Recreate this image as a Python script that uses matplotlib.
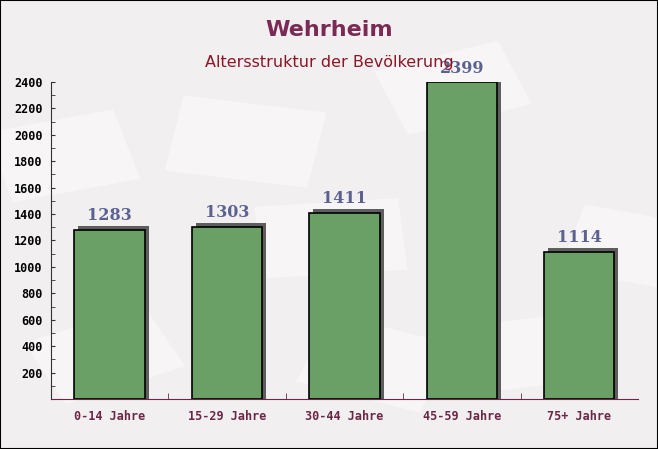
# Altersstruktur Wehrheim - bar chart with drop shadow
import matplotlib
matplotlib.use("Agg")
import matplotlib.pyplot as plt
import matplotlib.transforms as mtransforms
from matplotlib.patches import Rectangle
from matplotlib.ticker import MultipleLocator, FixedLocator

categories = ["0-14 Jahre", "15-29 Jahre", "30-44 Jahre", "45-59 Jahre", "75+ Jahre"]
values = [1283, 1303, 1411, 2399, 1114]
yticks = [200, 400, 600, 800, 1000, 1200, 1400, 1600, 1800, 2000, 2200, 2400]

BG = "#f2eff0"
fig = plt.figure(figsize=(6.58, 4.49), dpi=100, facecolor=BG)

# faint envelope-like shapes in the background
deco = [(0.02, 0.55, 0.2, 0.16, 15), (0.25, 0.62, 0.22, 0.17, -10), (0.62, 0.7, 0.2, 0.15, 20),
        (0.85, 0.4, 0.18, 0.15, -15), (0.1, 0.1, 0.2, 0.15, 25), (0.45, 0.15, 0.2, 0.16, -20),
        (0.7, 0.12, 0.2, 0.15, 10), (0.4, 0.38, 0.22, 0.16, 5)]
for x0, y0, w, h, ang in deco:
    r = Rectangle((x0, y0), w, h, angle=ang, transform=fig.transFigure,
                  facecolor="white", alpha=0.4, edgecolor="none", zorder=-5)
    fig.patches.append(r)
fig.patches.append(Rectangle((0, 0), 1, 1, transform=fig.transFigure, fill=False,
                             edgecolor="black", linewidth=1.5, zorder=10))

ax = fig.add_axes([0.0775, 0.1114, 0.892, 0.706])
ax.set_facecolor("none")

x = range(len(categories))
shadow = mtransforms.offset_copy(ax.transData, fig=fig, x=4, y=0, units="dots")
ax.bar(x, [v + 30 for v in values], width=0.6, color="#5e5e5e", transform=shadow, zorder=2)
ax.bar(x, values, width=0.6, color="#6a9f66", edgecolor="black", linewidth=1.2, zorder=3)

for i, v in enumerate(values):
    ax.annotate(str(v), (i, v), xytext=(0, 4), textcoords="offset points",
                ha="center", va="bottom", fontsize=11.5, fontweight="bold",
                family="DejaVu Serif", color="#5b6290", zorder=5)

ax.set_xlim(-0.5, len(categories) - 0.5)
ax.set_ylim(0, 2400)
ax.set_yticks(yticks)
ax.yaxis.set_minor_locator(MultipleLocator(100))
ax.xaxis.set_major_locator(FixedLocator(list(x)))
ax.set_xticklabels(categories)
ax.xaxis.set_minor_locator(FixedLocator([i + 0.5 for i in range(len(categories) - 1)]))

for s in ["top", "right"]:
    ax.spines[s].set_visible(False)
ax.spines["left"].set_color("#333333")
ax.spines["bottom"].set_color("#6b2748")

ax.tick_params(axis="y", which="both", direction="in", length=3, color="#333333",
               labelsize=8.5, pad=6)
ax.tick_params(axis="x", which="major", length=0, labelsize=8.5, pad=8, labelcolor="#6b2748")
ax.tick_params(axis="x", which="minor", direction="in", length=4, color="#6b2748")
for lab in ax.get_yticklabels() + ax.get_xticklabels():
    lab.set_family("DejaVu Sans Mono")
    lab.set_fontweight("bold")

fig.text(0.5, 0.934, "Wehrheim", ha="center", va="center", fontsize=16,
         fontweight="bold", color="#7a2a55")
fig.text(0.5, 0.86, "Altersstruktur der Bevölkerung", ha="center", va="center",
         fontsize=11.5, color="#8b1628")

fig.savefig("out.png", dpi=100, facecolor=BG)
